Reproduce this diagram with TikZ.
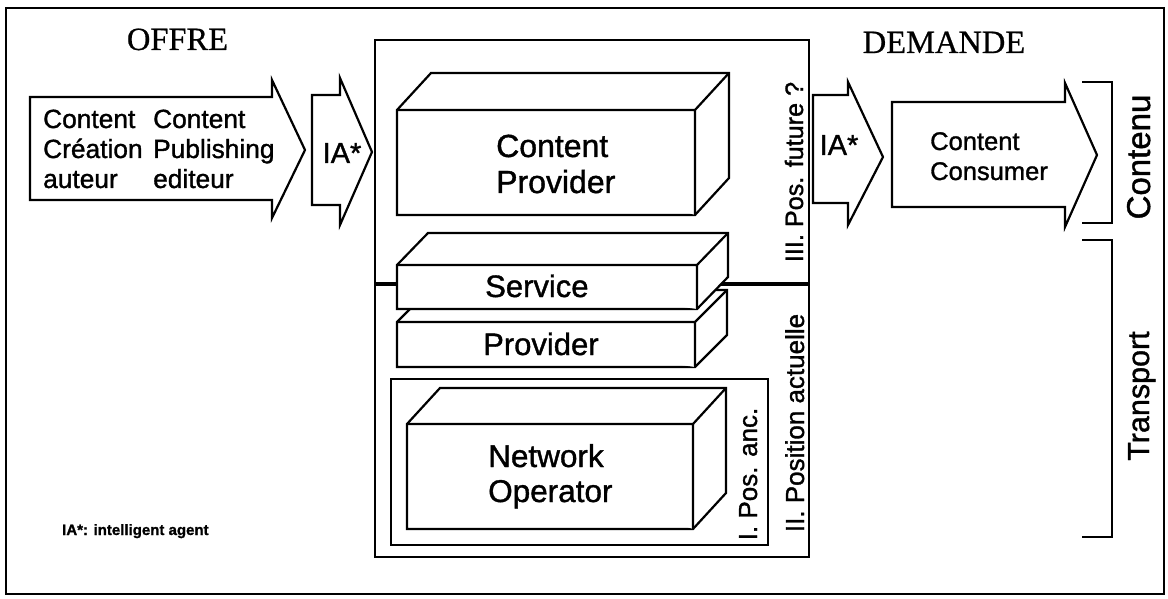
\documentclass[tikz,border=0pt]{standalone}
\usepackage{fontspec}
\setmainfont[FakeBold=1.2]{Liberation Sans}
\newfontfamily\seriffont[FakeBold=0.6]{Liberation Serif}
\newcommand\fsz[1]{\fontsize{#1}{#1}\selectfont}
% cuboid: front x1 y1 x2 y2, back offset dx, dy (up)
\newcommand\cuboid[6]{%
  \filldraw[boxline] (#1,#2) -- (#1+#5,#2-#6) -- (#3+#5,#2-#6) -- (#3+#5,#4-#6) -- (#3,#4) -- (#1,#4) -- cycle;
  \draw[boxline] (#1,#2) -- (#3,#2) -- (#3,#4) (#3,#2) -- (#3+#5,#2-#6);
}
\begin{document}
\begin{tikzpicture}[x=1pt,y=-1pt,line join=miter]
\tikzset{
  frameline/.style={draw,line width=2.2pt},
  boxline/.style={draw,fill=white,line width=2.2pt},
  arrowshape/.style={draw,fill=white,line width=2.2pt},
  lbl/.style={inner sep=0pt,anchor=base},
  lblw/.style={inner sep=0pt,anchor=base west},
  vlbl/.style={inner sep=0pt,anchor=base,rotate=90},
}
\useasboundingbox (0,0) rectangle (1168,599);
% outer frame
\draw[frameline] (6,8) rectangle (1164,594);
% titles
\node[lbl] (offre) at (177.5,50) {\seriffont\fsz{32.5}OFFRE};
\node[lbl] (demande) at (944,53) {\seriffont\fsz{32.5}DEMANDE};
% left big arrow
\draw[arrowshape] (30,97) -- (272,97) -- (272,80) -- (305,150) -- (272,218) -- (272,200) -- (30,200) -- cycle;
\node[lblw] (c1a) at (43,128) {\fsz{26.3}Content};
\node[lblw] (c1b) at (43,158) {\fsz{26.3}Création};
\node[lblw] (c1c) at (43,188) {\fsz{26.3}auteur};
\node[lblw] (c2a) at (153,128) {\fsz{26.3}Content};
\node[lblw] (c2b) at (153,158) {\fsz{26.3}Publishing};
\node[lblw] (c2c) at (153,188) {\fsz{26.3}editeur};
% left IA arrow
\draw[arrowshape] (312,95) -- (340,95) -- (340,78) -- (372,152) -- (340,225) -- (340,205) -- (312,205) -- cycle;
\node[lbl] (ia1) at (342,163) {\fsz{29}IA*};
% central box
\draw[frameline] (375,40) rectangle (809,557);
\draw[line width=4pt] (375,284) -- (809,284);
\draw[frameline] (391,379) rectangle (768,545);
% cuboids
\cuboid{397}{110}{695}{215}{34}{37}
\node[lblw] (cp1) at (496,157) {\fsz{32}Content};
\node[lblw] (cp2) at (496,193) {\fsz{32}Provider};
\cuboid{397}{322}{695}{367}{32}{32}
\cuboid{397}{265}{697}{309}{31}{32}
\node[lblw] (sp1) at (485,297) {\fsz{31}Service};
\node[lblw] (sp2) at (483,355) {\fsz{31}Provider};
\cuboid{407}{424}{693}{529}{33}{36}
\node[lblw] (no1) at (488,467) {\fsz{31.5}Network};
\node[lblw] (no2) at (488,502) {\fsz{31.5}Operator};
% vertical labels
\node[vlbl] (p3) at (803,172) {\fsz{25.2}III. Pos. future ?};
\node[vlbl] (p2) at (804,423) {\fsz{26}II. Position actuelle};
\node[vlbl] (p1) at (757,474) {\fsz{26}I. Pos. anc.};
% right IA arrow
\draw[arrowshape] (813,95) -- (848,95) -- (848,82) -- (883,157) -- (848,225) -- (848,203) -- (813,203) -- cycle;
\node[lbl] (ia2) at (839,155) {\fsz{29}IA*};
% consumer arrow
\draw[arrowshape] (892,102) -- (1065,102) -- (1065,83) -- (1097,155) -- (1065,227) -- (1065,207) -- (892,207) -- cycle;
\node[lblw] (cc1) at (930,150) {\fsz{25.5}Content};
\node[lblw] (cc2) at (930,180) {\fsz{25.5}Consumer};
% brackets
\draw[frameline] (1082,82) -- (1112,82) -- (1112,223) -- (1082,223);
\draw[frameline] (1082,240) -- (1112,240) -- (1112,537) -- (1082,537);
\node[vlbl] (contenu) at (1150,157) {\fsz{33}Contenu};
\node[vlbl] (transport) at (1149,396) {\fsz{30.5}Transport};
% footnote
\node[lblw] (note) at (62,535) {\fsz{15}\bfseries IA*: intelligent agent};
\end{tikzpicture}
\end{document}
